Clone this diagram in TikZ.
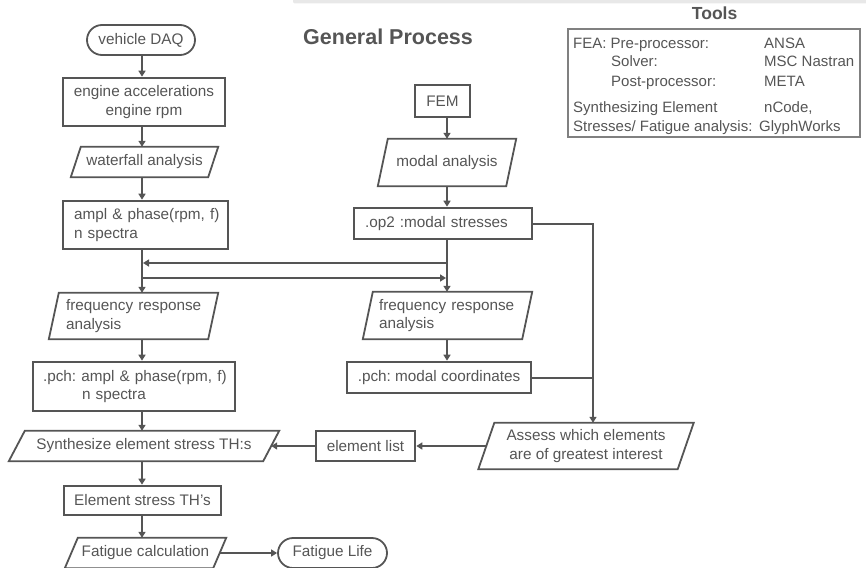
\documentclass[tikz,border=0pt]{standalone}
\usepackage{fontspec}
\setmainfont{Liberation Sans}
\usetikzlibrary{arrows.meta}
\definecolor{ink}{HTML}{555555}
\definecolor{barg}{HTML}{E8E8E8}
\definecolor{tbox}{HTML}{808080}
\newcommand\paradraw[2]{\draw[ink, line width=1.8pt, line join=miter] ([xshift=#2pt]#1.north west) -- (#1.north east) -- ([xshift=-#2pt]#1.south east) -- (#1.south west) -- cycle;}
\frenchspacing
\begin{document}
\frenchspacing
\begin{tikzpicture}[x=1pt,y=-1pt,
  txt/.style={font=\fontsize{15.3}{18.5}\selectfont, text=ink},
  box/.style={txt, draw=ink, line width=2.6pt, inner sep=0pt, align=center},
  term/.style={txt, draw=ink, line width=1.8pt, rounded corners=15pt, inner sep=0pt, align=center},
  para/.style={txt, inner sep=0pt, align=center},
  conn/.style={draw=ink, line width=2pt},
  arr/.style={conn, -{Triangle[length=6pt,width=7pt]}},
  tt/.style={font=\fontsize{15}{18}\selectfont, text=ink, anchor=base west, inner sep=0pt},
]
\useasboundingbox (0,0) rectangle (866,567);
\clip (0,0) rectangle (866,567);
\fill[barg, rounded corners=2pt] (293,-3) rectangle (870,3.5);

% titles
\node[font=\bfseries\fontsize{21.5}{24}\selectfont, text=ink, anchor=base west, inner sep=0pt] (gp) at (303,44.3) {General Process};
\node[font=\bfseries\fontsize{17.5}{20}\selectfont, text=ink, anchor=base west, inner sep=0pt] (ttl) at (691.7,19.3) {Tools};

% tools box
\node[draw=tbox, line width=1.2pt, minimum width=292pt, minimum height=108pt, inner sep=0pt] (tools) at (714,83) {};
\node[tt] (t1) at (573,48.3) {FEA: Pre-processor:};
\node[tt] (t3) at (764,48.3) {ANSA};
\node[tt] (t4) at (611,66.7) {Solver:};
\node[tt] (t5) at (764,66.7) {MSC Nastran};
\node[tt] (t6) at (611,86.7) {Post-processor:};
\node[tt] (t7) at (764,86.7) {META};
\node[tt] (t8) at (573,112.7) {Synthesizing Element};
\node[tt] (t9) at (764,112.7) {nCode,};
\node[tt] (t10) at (573,131.7) {Stresses/ Fatigue analysis:};
\node[tt] (t11) at (759,131.7) {GlyphWorks};

% left column
\node[term, minimum width=108pt, minimum height=30pt] (dac) at (141,40) {vehicle DAQ};
\node[box, minimum width=162pt, minimum height=48pt] (eng) at (144,102) {engine accelerations\\engine rpm};
\node[para, minimum width=147pt, minimum height=30pt] (wf) at (144.5,162) {waterfall analysis};
\node[box, minimum height=48pt, text width=143pt, inner xsep=11pt, align=left] (ampl) at (145.5,225) {\mbox{ampl \& phase(rpm, f)}\\\mbox{n spectra}};
\node[para, minimum height=46pt, text width=135pt, inner xsep=17pt, align=left] (freqL) at (133.5,316) {\mbox{frequency response}\\\mbox{analysis}};
\node[box, minimum height=49pt, text width=182pt, inner xsep=10pt, align=left] (pchL) at (134,386.5) {\mbox{.pch: ampl \& phase(rpm, f)}\\\hspace*{39pt}\mbox{n spectra}};
\node[para, minimum width=270pt, minimum height=30pt] (syn) at (144,446) {Synthesize element stress TH:s};
\node[box, minimum width=157pt, minimum height=29pt] (est) at (142.5,500.5) {Element stress TH's};
\node[para, minimum width=161pt, minimum height=30pt] (fat) at (145.5,553) {Fatigue calculation};
\node[term, minimum width=109pt, minimum height=30pt] (life) at (332.5,553) {Fatigue Life};

% right column
\node[box, minimum width=55pt, minimum height=32pt] (fem) at (442.5,101) {FEM};
\node[para, minimum width=138pt, minimum height=47pt] (modal) at (447,162.5) {modal analysis};
\node[box, minimum height=31pt, text width=156pt, inner xsep=11pt, align=left] (op2) at (443,223.5) {\mbox{.op2 :modal stresses}};
\node[para, minimum height=47pt, text width=137pt, inner xsep=16pt, align=left] (freqR) at (447.5,315.5) {\mbox{frequency response}\\\mbox{analysis}};
\node[box, minimum width=184pt, minimum height=31pt] (pchR) at (439,377.5) {.pch: modal coordinates};
\node[box, minimum width=99pt, minimum height=30pt] (elist) at (365.5,446) {element list};
\node[para, minimum width=215pt, minimum height=46pt] (assess) at (586,446) {Assess which elements\\are of greatest interest};

% parallelogram outlines
\paradraw{wf}{10}
\paradraw{freqL}{10}
\paradraw{syn}{16}
\paradraw{fat}{13}
\paradraw{modal}{10}
\paradraw{freqR}{10}
\paradraw{assess}{16}

% column guides
\coordinate (cL) at (142,0);
\coordinate (cR) at (447,0);
\coordinate (cV) at (593,0);
\coordinate (jR1) at (447,263);
\coordinate (jL1) at (143,263);
\coordinate (jL2) at (142,278);
\coordinate (jR2) at (446,278);

% connectors
\draw[arr] (dac.south -| cL) -- (eng.north -| cL);
\draw[arr] (eng.south -| cL) -- (wf.north -| cL);
\draw[arr] (wf.south -| cL) -- (ampl.north -| cL);
\draw[arr] (ampl.south -| cL) -- (freqL.north -| cL);
\draw[arr] (freqL.south -| cL) -- (pchL.north -| cL);
\draw[arr] (pchL.south -| cL) -- (syn.north -| cL);
\draw[arr] (syn.south -| cL) -- (est.north -| cL);
\draw[arr] (est.south -| cL) -- (fat.north -| cL);
\draw[arr] ([xshift=-6.5pt]fat.east) -- (life.west);

\draw[arr] (fem.south -| cR) -- (modal.north -| cR);
\draw[arr] (modal.south -| cR) -- (op2.north -| cR);
\draw[arr] (op2.south -| cR) -- (freqR.north -| cR);
\draw[arr] (freqR.south -| cR) -- (pchR.north -| cR);
\draw[arr] (jR1) -- (jL1);
\draw[arr] (jL2) -- (jR2);

\draw[arr] (op2.east) -| (cV |- assess.north);
\draw[conn] (pchR.east) -- (pchR.east -| cV);
\draw[arr] ([xshift=8pt]assess.west) -- (elist.east);
\draw[arr] (elist.west) -- ([xshift=-8pt]syn.east);
\end{tikzpicture}
\end{document}
